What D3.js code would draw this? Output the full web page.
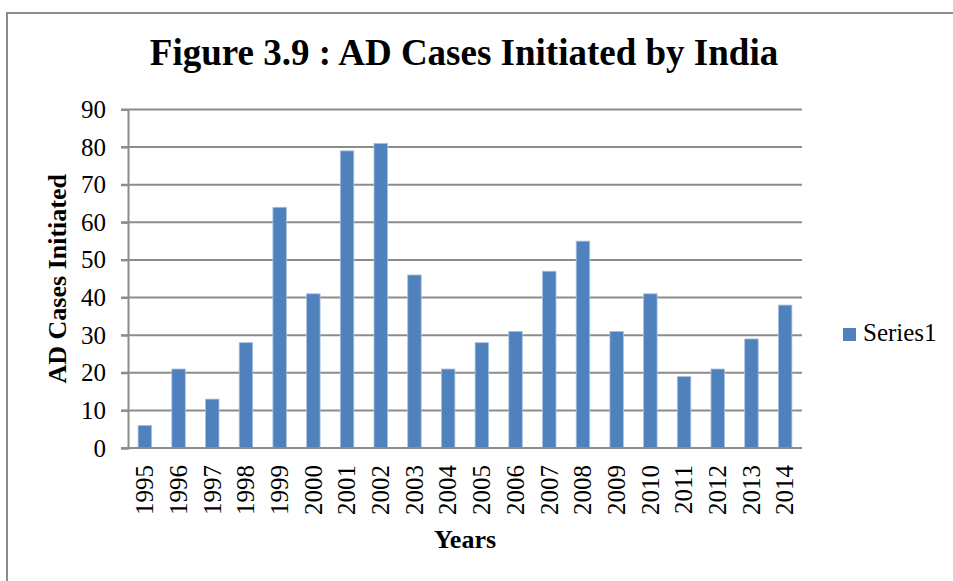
<!DOCTYPE html>
<html>
<head>
<meta charset="utf-8">
<script src="https://cdn.jsdelivr.net/npm/d3@7"></script>
<style>
  html, body { margin: 0; padding: 0; background: #fff; }
  svg { display: block; }
</style>
</head>
<body>
<svg id="chart" width="953" height="581"></svg>
<script>
const years = ["1995","1996","1997","1998","1999","2000","2001","2002","2003","2004","2005","2006","2007","2008","2009","2010","2011","2012","2013","2014"];
const series1 = [6, 21, 13, 28, 64, 41, 79, 81, 46, 21, 28, 31, 47, 55, 31, 41, 19, 21, 29, 38];
const yTicks = [0, 10, 20, 30, 40, 50, 60, 70, 80, 90];
const titleText = "Figure 3.9 : AD Cases Initiated by India";
const xTitle = "Years";
const yTitle = "AD Cases Initiated";
const seriesName = "Series1";

const svg = d3.select("#chart");
const serif = "'Liberation Serif', 'Times New Roman', serif";
const gridColor = "#8c8c8c";
const barColor = "#4f81bd";

// outer chart border
svg.append("rect")
  .attr("x", 7).attr("y", 13)
  .attr("width", 960).attr("height", 600)
  .attr("fill", "none").attr("stroke", gridColor).attr("stroke-width", 2);

const plot = { left: 128, right: 802, top: 109.5, bottom: 448 };

const x = d3.scaleBand()
  .domain(years)
  .range([plot.left, plot.right])
  .paddingInner(0.6)
  .paddingOuter(0.3);

const y = d3.scaleLinear()
  .domain([0, 90])
  .range([plot.bottom, plot.top]);

// gridlines
svg.append("g")
  .selectAll("line")
  .data(yTicks.filter(d => d > 0))
  .join("line")
  .attr("x1", plot.left - 7).attr("x2", plot.right)
  .attr("y1", d => y(d)).attr("y2", d => y(d))
  .attr("stroke", gridColor).attr("stroke-width", 2);

// y axis
const yAxis = svg.append("g")
  .attr("transform", `translate(${plot.left},0)`)
  .call(d3.axisLeft(y).tickValues(yTicks).tickSize(7).tickPadding(15));
yAxis.attr("font-family", serif).attr("font-size", 25);
yAxis.select(".domain").attr("stroke", gridColor).attr("stroke-width", 2);
yAxis.selectAll(".tick line").attr("stroke", gridColor).attr("stroke-width", 2);
yAxis.selectAll(".tick text")
  .attr("font-family", serif).attr("font-size", 25).attr("fill", "#000");

// bars
svg.append("g")
  .selectAll("rect")
  .data(series1)
  .join("rect")
  .attr("x", (d, i) => x(years[i]))
  .attr("y", d => y(d))
  .attr("width", x.bandwidth())
  .attr("height", d => y(0) - y(d))
  .attr("fill", barColor)
  .attr("stroke", "#a9c1e0")
  .attr("stroke-width", 0.8);

// x axis
const xAxis = svg.append("g")
  .attr("transform", `translate(0,${plot.bottom})`)
  .call(d3.axisBottom(x).tickSize(0).tickSizeOuter(0));
xAxis.attr("font-family", serif).attr("font-size", 25);
xAxis.select(".domain").attr("stroke", gridColor).attr("stroke-width", 2)
  .attr("d", `M${plot.left - 7},0H${plot.right}`);
xAxis.selectAll(".tick text")
  .attr("font-family", serif).attr("font-size", 25).attr("fill", "#000")
  .attr("text-anchor", "end")
  .attr("transform", "rotate(-90)")
  .attr("x", -17)
  .attr("y", 0)
  .attr("dy", "0.33em");

// title
svg.append("text")
  .attr("x", 464).attr("y", 65)
  .attr("text-anchor", "middle")
  .attr("font-family", serif).attr("font-weight", "bold").attr("font-size", 37)
  .attr("fill", "#000")
  .text(titleText);

// axis titles
svg.append("text")
  .attr("x", (plot.left + plot.right) / 2).attr("y", 548)
  .attr("text-anchor", "middle")
  .attr("font-family", serif).attr("font-weight", "bold").attr("font-size", 26)
  .attr("fill", "#000")
  .text(xTitle);

svg.append("text")
  .attr("transform", `translate(66,${(plot.top + plot.bottom) / 2}) rotate(-90)`)
  .attr("text-anchor", "middle")
  .attr("font-family", serif).attr("font-weight", "bold").attr("font-size", 26)
  .attr("fill", "#000")
  .text(yTitle);

// legend
const legend = svg.append("g").attr("transform", "translate(843,328)");
legend.append("rect")
  .attr("x", 0).attr("y", 0).attr("width", 13).attr("height", 13)
  .attr("fill", barColor);
legend.append("text")
  .attr("x", 20).attr("y", 13)
  .attr("font-family", serif).attr("font-size", 25).attr("fill", "#000")
  .text(seriesName);
</script>
</body>
</html>
